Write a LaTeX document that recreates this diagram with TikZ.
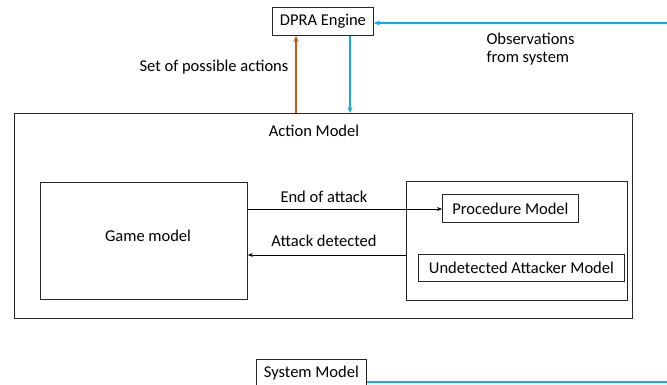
\documentclass[tikz,border=0pt]{standalone}
\usepackage{fontspec}
\setmainfont{Carlito}
\usetikzlibrary{arrows.meta}
\definecolor{obsblue}{RGB}{20,170,230}
\definecolor{actorange}{RGB}{197,90,17}
\tikzset{
  box/.style={draw=black!85, line width=0.8pt, inner sep=0pt},
  lbl/.style={font=\fontsize{16.5}{18.5}\selectfont, align=left},
  blk/.style={draw=black, line width=0.8pt, -{Stealth[length=5pt,width=4pt]}},
  blu/.style={draw=obsblue, line width=1.8pt, -{Stealth[length=6pt,width=5pt]}},
  org/.style={draw=actorange, line width=1.8pt, -{Stealth[length=6pt,width=5pt]}},
}
\begin{document}
\begin{tikzpicture}[x=1pt,y=-1pt]
\useasboundingbox (0,0) rectangle (667,385);
\clip (0,0) rectangle (667,385);
% boxes
\node[box, minimum width=101pt, minimum height=28pt, anchor=north west, lbl] (dpra) at (272,7) {DPRA Engine};
\node[box, minimum width=618pt, minimum height=205pt, anchor=north west] (action) at (14,113) {};
\node[lbl, anchor=center] (actlbl) at (314,131) {Action Model};
\node[box, minimum width=207pt, minimum height=117pt, anchor=north west] (game) at (40,182) {};
\node[lbl, anchor=center] (gamelbl) at (148,236) {Game model};
\node[box, minimum width=221pt, minimum height=119pt, anchor=north west] (inner) at (406,181) {};
\node[box, minimum width=136pt, minimum height=28pt, anchor=north west, lbl] (proc) at (442,194) {Procedure Model};
\node[box, minimum width=206pt, minimum height=27pt, anchor=north west, lbl] (undet) at (418,254) {Undetected Attacker Model};
\node[box, minimum width=110pt, minimum height=28pt, anchor=north west, lbl] (sys) at (256,359) {System Model};
% coordinates
\coordinate (obsR) at (667,23);
\coordinate (sysR) at (667,382);
% connectors
\draw[blu] (obsR) -- (dpra.east |- obsR);
\draw[org] (action.north -| 296,0) -- (dpra.south -| 296,0);
\draw[blu] (dpra.south -| 350,0) -- (action.north -| 350,0);
\draw[obsblue, line width=1.8pt] (sys.east |- sysR) -- (sysR);
\draw[blk] (game.east |- 0,209) -- (proc.west |- 0,209);
\draw[blk] (inner.west |- 0,255) -- (game.east |- 0,255);
% labels
\node[lbl, anchor=center] (setlbl) at (214,67) {Set of possible actions};
\node[lbl, anchor=west] (obslbl) at (483,49) {Observations\\from system};
\node[lbl, anchor=center] (endlbl) at (324,197) {End of attack};
\node[lbl, anchor=center] (detlbl) at (324,241) {Attack detected};
\end{tikzpicture}
\end{document}
